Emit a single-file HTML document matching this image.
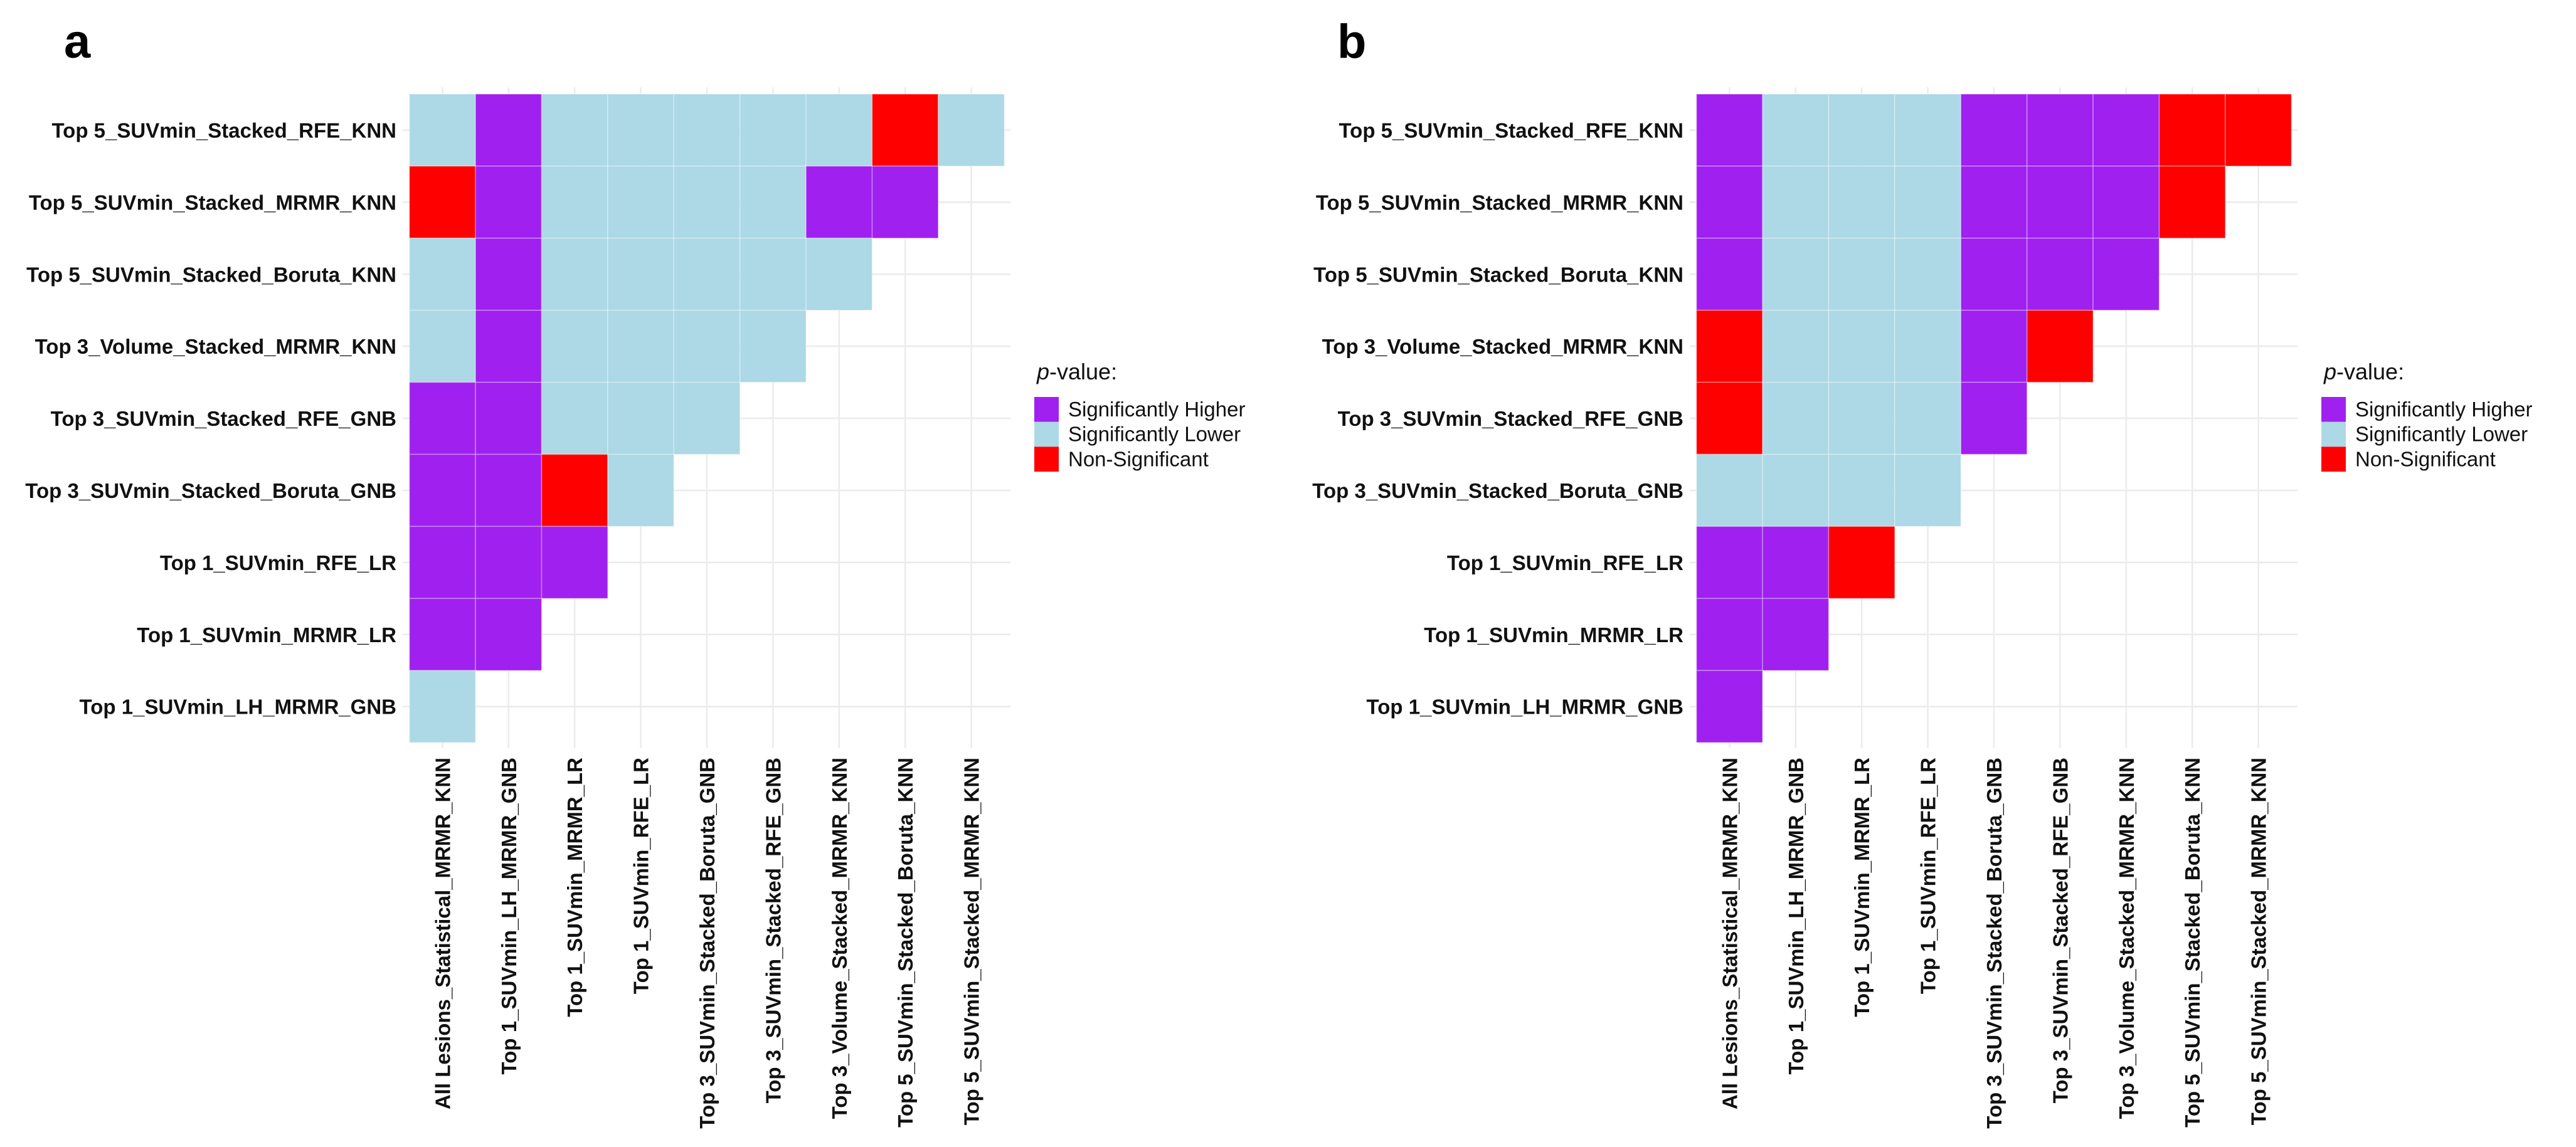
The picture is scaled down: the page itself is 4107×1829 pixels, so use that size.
<!DOCTYPE html>
<html><head><meta charset="utf-8">
<style>
html,body{margin:0;padding:0;background:#fff;}
svg{display:block;font-family:"Liberation Sans",Arial,sans-serif;}
</style></head>
<body>
<svg id="fig" width="4107" height="1829" viewBox="0 0 4107 1829" xmlns="http://www.w3.org/2000/svg"></svg>
<script>
const rowLabels = ["Top 5_SUVmin_Stacked_RFE_KNN","Top 5_SUVmin_Stacked_MRMR_KNN","Top 5_SUVmin_Stacked_Boruta_KNN","Top 3_Volume_Stacked_MRMR_KNN","Top 3_SUVmin_Stacked_RFE_GNB","Top 3_SUVmin_Stacked_Boruta_GNB","Top 1_SUVmin_RFE_LR","Top 1_SUVmin_MRMR_LR","Top 1_SUVmin_LH_MRMR_GNB"];
const colLabels = ["All Lesions_Statistical_MRMR_KNN","Top 1_SUVmin_LH_MRMR_GNB","Top 1_SUVmin_MRMR_LR","Top 1_SUVmin_RFE_LR","Top 3_SUVmin_Stacked_Boruta_GNB","Top 3_SUVmin_Stacked_RFE_GNB","Top 3_Volume_Stacked_MRMR_KNN","Top 5_SUVmin_Stacked_Boruta_KNN","Top 5_SUVmin_Stacked_MRMR_KNN"];
const categories = ["Significantly Higher","Significantly Lower","Non-Significant"];
// P = higher, L = lower, N = non-significant
const valuesA = ["LPLLLLLNL","NPLLLLPP","LPLLLLL","LPLLLL","PPLLL","PPNL","PPP","PP","L"];
const valuesB = ["PLLLPPPNN","PLLLPPPN","PLLLPPP","NLLLPN","NLLLP","LLLL","PPN","PP","P"];
const colorMap = {P:"#A020F0",L:"#ADD8E6",N:"#FF0000"};
const NS="http://www.w3.org/2000/svg";
const svg=document.getElementById('fig');
function mk(tag,attrs,parent){const e=document.createElementNS(NS,tag);for(const k in attrs)e.setAttribute(k,attrs[k]);(parent||svg).appendChild(e);return e;}
const CW=105.4, RH=114.9;
function drawPanel(ox, letter, values){
  const g=mk('g',{});
  
  
  const left=652.7+ox, top=150;
  const xC=i=>left+CW*(i+0.5), yC=j=>top+RH*(j+0.5);
  for(let i=0;i<colLabels.length;i++){
    const l=mk('line',{x1:xC(i),x2:xC(i),y1:139,y2:1193,stroke:"#ebebeb","stroke-width":2.5},g);
    
    
  }
  for(let j=0;j<rowLabels.length;j++){
    const l=mk('line',{x1:642+ox,x2:1611+ox,y1:yC(j),y2:yC(j),stroke:"#ebebeb","stroke-width":2.5},g);
    
    
  }
  values.forEach((row,j)=>{
    row.split('').forEach((v,i)=>{
      const r=mk('rect',{x:left+CW*i,y:top+RH*j,width:CW,height:RH,fill:colorMap[v],stroke:"#ffffff","stroke-opacity":0.35,"stroke-width":1.5},g);
      
      
    });
  });
  rowLabels.forEach((t,j)=>{
    const e=mk('text',{x:632+ox,y:yC(j)+12,"text-anchor":"end","font-size":33,"font-weight":"bold",fill:"#111"},g);
    e.textContent=t;
    
    
  });
  colLabels.forEach((t,i)=>{
    const x=xC(i)+12, y=1208;
    const e=mk('text',{x:x,y:y,"text-anchor":"end","font-size":33,"font-weight":"bold",fill:"#111",transform:`rotate(-90 ${x} ${y})`},g);
    e.textContent=t;
    
    
  });
  const pl=mk('text',{x:102+ox-(letter==='b'?22:0),y:92,"font-size":76,"font-weight":"bold",fill:"#000"},g);
  pl.textContent=letter;
  
  
  const lg=mk('g',{},g);
  
  
  const tt=mk('text',{x:1653+ox,y:605,"font-size":36,fill:"#111"},lg);
  tt.innerHTML='<tspan font-style="italic">p</tspan>-value:';
  
  
  const keys=['P','L','N'];
  categories.forEach((c,k)=>{
    const r=mk('rect',{x:1649+ox,y:633+39.7*k,width:39,height:39.7,fill:colorMap[keys[k]]},lg);
    
    
    const t=mk('text',{x:1703+ox,y:633+39.7*k+31,"font-size":33,fill:"#111"},lg);
    t.textContent=c;
    
    
  });
}
drawPanel(0,'a',valuesA);
drawPanel(2052,'b',valuesB);
</script>
</body></html>
